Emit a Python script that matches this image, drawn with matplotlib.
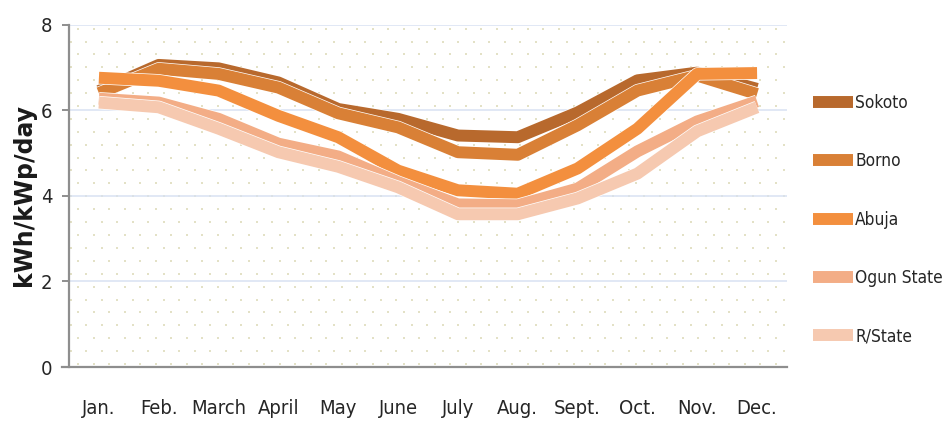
import numpy as np
import matplotlib
matplotlib.use("Agg")
import matplotlib.pyplot as plt
import matplotlib.patheffects as pe
from matplotlib import font_manager as fm

months = ["Jan.", "Feb.", "March", "April", "May", "June",
          "July", "Aug.", "Sept.", "Oct.", "Nov.", "Dec."]

sokoto = [6.45, 7.06, 6.98, 6.65, 6.03, 5.80, 5.41, 5.37, 5.95, 6.70, 6.88, 6.50]
borno = [6.40, 6.97, 6.85, 6.53, 5.93, 5.60, 5.02, 4.96, 5.65, 6.46, 6.81, 6.38]
abuja = [6.76, 6.69, 6.46, 5.87, 5.37, 4.59, 4.13, 4.05, 4.64, 5.57, 6.85, 6.87]
ogun = [6.27, 6.18, 5.80, 5.22, 4.92, 4.32, 3.80, 3.78, 4.17, 5.04, 5.74, 6.21]
rstate = [6.18, 6.07, 5.57, 5.02, 4.68, 4.20, 3.57, 3.57, 3.94, 4.52, 5.51, 6.07]

series_names = ["Sokoto", "Borno", "Abuja", "Ogun State", "R/State"]
series_values = [sokoto, borno, abuja, ogun, rstate]
series_colors = ["#B8692D", "#D98036", "#F38F3E", "#F3AD86", "#F6C9B0"]

y_ticks = [0, 2, 4, 6, 8]


def narrow_font(size):
    """Pick a condensed sans face if one is installed."""
    fonts = fm.fontManager.ttflist
    for f in fonts:
        if f.name == "Liberation Sans Narrow" and f.style == "normal" \
                and f.weight in (400, "normal", "regular"):
            return fm.FontProperties(fname=f.fname, size=size)
    for fam in ["Noto Sans", "Open Sans", "DejaVu Sans", "Roboto"]:
        for f in fonts:
            fn = f.fname.lower()
            if f.name == fam and "condensed" in fn and "semi" not in fn \
                    and "extra" not in fn and "bold" not in fn \
                    and "italic" not in fn and "light" not in fn \
                    and "medium" not in fn and "black" not in fn \
                    and "thin" not in fn and "oblique" not in fn:
                return fm.FontProperties(fname=f.fname, size=size)
    return fm.FontProperties(family="Liberation Sans", size=size * 0.9)


W, H = 946, 423
fig = plt.figure(figsize=(W / 100, H / 100), dpi=100)
ax_left, ax_right, ax_top, ax_bottom = 69, 787, 24.7, 367
ax = fig.add_axes([ax_left / W, 1 - ax_bottom / H,
                   (ax_right - ax_left) / W, (ax_bottom - ax_top) / H])

tick_fp = narrow_font(14.5)
legend_fp = narrow_font(12.4)
text_color = "#262626"

# staggered dot texture of the plot area
aw, ah = ax_right - ax_left, ax_bottom - ax_top
dx, dy = 15.5, 12.9
dots_x, dots_y = [], []
row = 0
yy = 3.0
while yy < ah:
    off = 9.3 if row % 2 == 0 else 1.7
    xx = off
    while xx < aw:
        dots_x.append(xx / aw)
        dots_y.append(yy / ah)
        xx += dx
    yy += dy
    row += 1
ax.scatter(dots_x, dots_y, s=1.3, marker="s", color="#E3E1C6",
           linewidths=0, transform=ax.transAxes, zorder=0)

# horizontal gridlines
for t in y_ticks[1:]:
    ax.axhline(t, color="#D8E2F2", lw=1.1, zorder=1)

x = np.arange(len(months))
for name, vals, col in zip(series_names, series_values, series_colors):
    ax.plot(x, vals, color=col, lw=8.6, label=name,
            solid_joinstyle="round", solid_capstyle="butt", zorder=3,
            path_effects=[pe.Stroke(linewidth=9.6, foreground="white"),
                          pe.Normal()])

ax.set_xlim(-0.5, 11.5)
ax.set_ylim(0, 8)
ax.set_xticks(x)
ax.set_xticklabels(months, fontproperties=tick_fp, color=text_color)
ax.set_yticks(y_ticks)
ax.set_yticklabels([str(t) for t in y_ticks], fontproperties=tick_fp,
                   color=text_color)
ax.tick_params(axis="x", length=0, pad=23)
ax.tick_params(axis="y", length=5, width=1.4, color="#8E8E8E", pad=7)

for s in ["top", "right"]:
    ax.spines[s].set_visible(False)
for s in ["left", "bottom"]:
    ax.spines[s].set_color("#8E8E8E")
    ax.spines[s].set_linewidth(1.6)
ax.spines["bottom"].set_bounds(-0.5 - 7 / aw * 12, 11.5)
ax.set_facecolor("white")

fig.text(24 / W, 1 - 195 / H, "kWh/kWp/day", rotation=90, ha="center",
         va="center", fontsize=17, fontweight="bold", color="#1A1A1A",
         family="DejaVu Sans")

leg = ax.legend(loc="upper left", bbox_to_anchor=(813 / W, 1 - 94 / H),
                bbox_transform=fig.transFigure, frameon=False,
                prop=legend_fp,
                handlelength=2.35, handletextpad=0.1, labelspacing=2.34,
                borderpad=0, borderaxespad=0)
for t in leg.get_texts():
    t.set_color(text_color)

fig.savefig("out.png", dpi=100)
